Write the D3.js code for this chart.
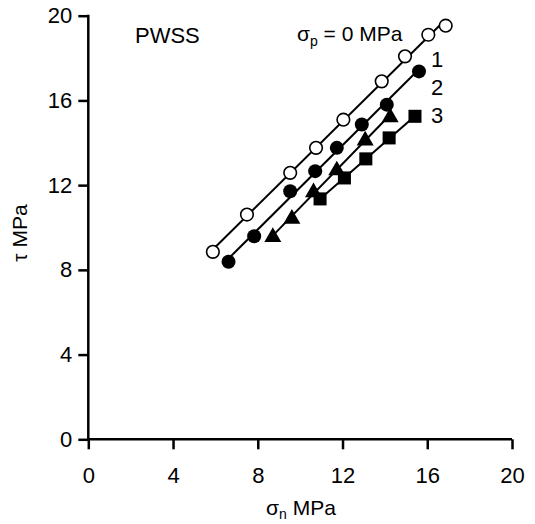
<!DOCTYPE html>
<html>
<head>
<meta charset="utf-8">
<script src="https://cdn.jsdelivr.net/npm/d3@7"></script>
<style>
  body { margin: 0; background: #fff; }
  text { font-family: "Liberation Sans", Arial, sans-serif; fill: #000; }
</style>
</head>
<body>
<svg id="myChart" width="535" height="524"></svg>
<script>

// sigma_n (MPa) and tau (MPa) for each confining pressure
let sigmaP0_x = [5.88, 7.49, 9.53, 10.75, 12.04, 13.85, 14.95, 16.05, 16.87];
let sigmaP0_y = [8.85, 10.61, 12.58, 13.76, 15.09, 16.9, 18.08, 19.1, 19.53];

let sigmaP1_x = [6.62, 7.83, 9.53, 10.71, 11.73, 12.91, 14.09, 15.61];
let sigmaP1_y = [8.38, 9.59, 11.71, 12.66, 13.76, 14.86, 15.8, 17.37];

let sigmaP2_x = [8.71, 9.61, 10.63, 11.73, 13.07, 14.25];
let sigmaP2_y = [9.59, 10.46, 11.71, 12.74, 14.15, 15.25];

let sigmaP3_x = [10.94, 12.09, 13.1, 14.2, 15.42];
let sigmaP3_y = [11.35, 12.34, 13.24, 14.23, 15.25];

let seriesNames = ['0', '1', '2', '3'];
let majorTicks = [0, 4, 8, 12, 16, 20];

let svg = d3.select('#myChart');

let x = d3.scaleLinear()
    .domain([0, 20])
    .range([88.3, 512]);

let y = d3.scaleLinear()
    .domain([0, 20])
    .range([439.3, 15.7]);

let minorTicks = d3.range(0, 20.001, 0.8);

//build the series table from the arrays
let series = [
  {name: seriesNames[0], xs: sigmaP0_x, ys: sigmaP0_y, shape: 'open'},
  {name: seriesNames[1], xs: sigmaP1_x, ys: sigmaP1_y, shape: 'circle'},
  {name: seriesNames[2], xs: sigmaP2_x, ys: sigmaP2_y, shape: 'triangle'},
  {name: seriesNames[3], xs: sigmaP3_x, ys: sigmaP3_y, shape: 'square'}
];
series.forEach(function(s){
  s.points = s.xs.map(function(v, i){ return [v, s.ys[i]]; });
});

// ---- axes ----
let gx = svg.append('g').attr('transform', 'translate(0,' + y(0) + ')');
gx.call(d3.axisBottom(x).tickValues(minorTicks).tickSize(7).tickFormat(''));
gx.call(d3.axisBottom(x).tickValues(majorTicks).tickSize(10).tickPadding(18));
gx.selectAll('.domain').remove();

let gy = svg.append('g').attr('transform', 'translate(' + x(0) + ',0)');
gy.call(d3.axisLeft(y).tickValues(minorTicks).tickSize(7).tickFormat(''));
gy.call(d3.axisLeft(y).tickValues(majorTicks).tickSize(10).tickPadding(6));
gy.selectAll('.domain').remove();

svg.selectAll('.tick line')
    .attr('stroke', '#000')
    .attr('stroke-width', 2.5);
svg.selectAll('.tick text')
    .attr('font-size', 22)
    .attr('font-family', '"Liberation Sans", Arial, sans-serif')
    .attr('fill', '#000');

//axis lines
svg.append('line')
    .attr('x1', x(0)).attr('x2', x(20))
    .attr('y1', y(0)).attr('y2', y(0))
    .attr('stroke', '#000').attr('stroke-width', 2.5);
svg.append('line')
    .attr('x1', x(0)).attr('x2', x(0))
    .attr('y1', y(0)).attr('y2', y(20) - 1)
    .attr('stroke', '#000').attr('stroke-width', 2.5);

// ---- fitted lines ----
function fit(pts){
  let mx = d3.mean(pts, function(d){ return d[0]; });
  let my = d3.mean(pts, function(d){ return d[1]; });
  let sxy = d3.sum(pts, function(d){ return (d[0] - mx) * (d[1] - my); });
  let sxx = d3.sum(pts, function(d){ return (d[0] - mx) * (d[0] - mx); });
  let b = sxy / sxx;
  let a = my - b * mx;
  let ext = d3.extent(pts, function(d){ return d[0]; });
  return [[ext[0], a + b * ext[0]], [ext[1], a + b * ext[1]]];
}

let line = d3.line()
    .x(function(d){ return x(d[0]); })
    .y(function(d){ return y(d[1]); });

svg.append('g')
  .selectAll('path')
  .data(series)
  .enter().append('path')
    .attr('d', function(d){ return line(fit(d.points)); })
    .attr('fill', 'none')
    .attr('stroke', '#000')
    .attr('stroke-width', 2);

// ---- markers ----
let tri = d3.symbol().type(d3.symbolTriangle).size(125);
let sq = d3.symbol().type(d3.symbolSquare).size(170);

series.forEach(function(s){
  let g = svg.append('g');
  let m = g.selectAll('.pt')
    .data(s.points)
    .enter();
  if (s.shape == 'open' || s.shape == 'circle') {
    m.append('circle')
      .attr('cx', function(d){ return x(d[0]); })
      .attr('cy', function(d){ return y(d[1]); })
      .attr('r', s.shape == 'open' ? 6.3 : 7)
      .attr('fill', s.shape == 'open' ? '#fff' : '#000')
      .attr('stroke', '#000')
      .attr('stroke-width', s.shape == 'open' ? 1.6 : 0);
  } else {
    m.append('path')
      .attr('d', s.shape == 'triangle' ? tri : sq)
      .attr('transform', function(d){ return 'translate(' + x(d[0]) + ',' + (y(d[1]) + (s.shape == 'triangle' ? 1 : 0)) + ')'; })
      .attr('fill', '#000');
  }
});

// ---- texts ----
svg.append('text')
    .attr('x', 135)
    .attr('y', 43)
    .attr('font-size', 22)
    .text('PWSS');

let leg = svg.append('text')
    .attr('x', 297)
    .attr('y', 41)
    .attr('font-size', 21);
leg.append('tspan').text('σ');
leg.append('tspan').attr('font-size', 14).attr('dy', 5).text('p');
leg.append('tspan').attr('dy', -5).text(' = ' + seriesNames[0] + ' MPa');

let labelY = [67, 95, 123];
svg.append('g')
  .selectAll('text')
  .data(seriesNames.slice(1))
  .enter().append('text')
    .attr('x', 431)
    .attr('y', function(d, i){ return labelY[i]; })
    .attr('font-size', 22)
    .text(function(d){ return d; });

//axis titles
let xt = svg.append('text')
    .attr('x', 301)
    .attr('y', 515)
    .attr('text-anchor', 'middle')
    .attr('font-size', 21);
xt.append('tspan').text('σ');
xt.append('tspan').attr('font-size', 14).attr('dy', 4).text('n');
xt.append('tspan').attr('dy', -4).text(' MPa');

//rotated label: opacity keeps the glyphs grey-scale antialiased
svg.append('text')
    .attr('transform', 'translate(27,233) rotate(-90)')
    .attr('text-anchor', 'middle')
    .attr('font-size', 21)
    .attr('fill', '#000')
    .attr('opacity', 0.99)
    .text('τ MPa');

</script>
</body>
</html>
